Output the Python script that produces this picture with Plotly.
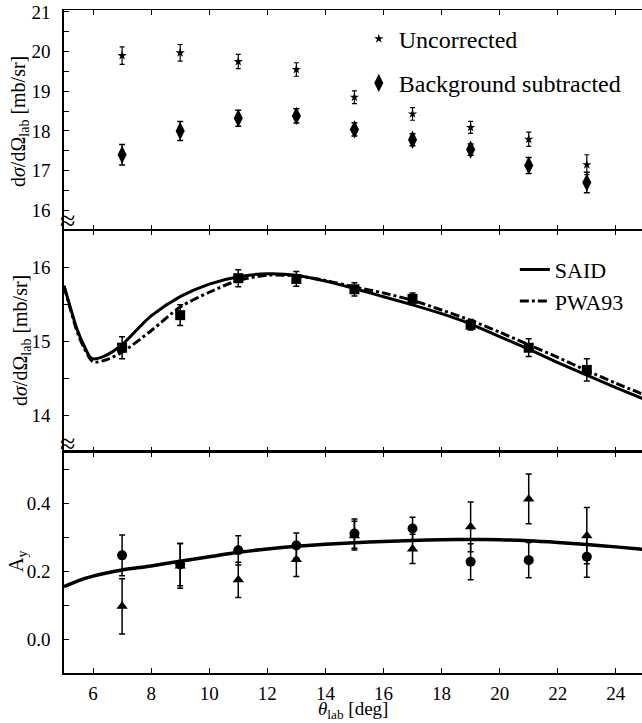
import plotly.graph_objects as go

# ---------------- data ----------------
theta = [7, 9, 11, 13, 15, 17, 19, 21, 23]

# top panel: cross sections
uncorr = [19.9, 19.97, 19.75, 19.55, 18.85, 18.43, 18.09, 17.79, 17.15]
uncorr_err = [0.22, 0.21, 0.18, 0.17, 0.16, 0.16, 0.15, 0.18, 0.25]
bgsub = [17.4, 18.0, 18.32, 18.38, 18.04, 17.78, 17.53, 17.13, 16.7]
bgsub_err = [0.26, 0.24, 0.2, 0.18, 0.17, 0.15, 0.14, 0.2, 0.26]

# middle panel: corrected cross sections
xs_corr = [14.91, 15.35, 15.85, 15.84, 15.7, 15.57, 15.22, 14.91, 14.61]
xs_corr_err = [0.15, 0.14, 0.115, 0.1, 0.09, 0.08, 0.07, 0.12, 0.15]

said_x = [5.0, 5.2, 5.45, 5.7, 5.95, 6.35, 7, 7.6, 8, 9, 10, 11, 12, 13, 14,
          15, 16, 17, 18, 19, 20, 21, 22, 23, 24, 25]
said_y = [15.75, 15.48, 15.16, 14.93, 14.765, 14.79, 14.95, 15.19, 15.34, 15.6,
          15.77, 15.87, 15.91, 15.89, 15.81, 15.71, 15.6, 15.49, 15.37, 15.23,
          15.06, 14.89, 14.71, 14.54, 14.37, 14.21]
pwa_x = [5.0, 5.2, 5.45, 5.7, 6.0, 6.4, 7, 8, 9, 10, 11, 12, 13, 14, 15, 16,
         17, 18, 19, 20, 21, 22, 23, 24, 25]
pwa_y = [15.74, 15.46, 15.13, 14.9, 14.72, 14.74, 14.85, 15.14, 15.46, 15.66,
         15.82, 15.89, 15.88, 15.82, 15.73, 15.65, 15.55, 15.42, 15.28, 15.12,
         14.95, 14.78, 14.6, 14.43, 14.27]

# bottom panel: analyzing power
ay_circ = [0.246, 0.219, 0.261, 0.275, 0.31, 0.325, 0.227, 0.232, 0.242]
ay_circ_err = [0.06, 0.062, 0.043, 0.037, 0.043, 0.033, 0.053, 0.052, 0.06]
ay_tri = [0.096, 0.215, 0.174, 0.234, 0.304, 0.265, 0.33, 0.412, 0.304]
ay_tri_err = [0.081, 0.066, 0.052, 0.05, 0.042, 0.043, 0.073, 0.073, 0.083]

ay_said_x = [5, 5.5, 6, 6.5, 7, 8, 9, 10, 11, 12, 13, 14, 15, 16, 17, 18, 19,
             20, 21, 22, 23, 24, 25]
ay_said_y = [0.154, 0.172, 0.185, 0.195, 0.203, 0.215, 0.229, 0.242, 0.255,
             0.265, 0.273, 0.279, 0.283, 0.287, 0.29, 0.292, 0.293, 0.292,
             0.289, 0.284, 0.278, 0.271, 0.263]

xticks = [6, 8, 10, 12, 14, 16, 18, 20, 22, 24]

# ---------------- figure ----------------
FONT = "Liberation Serif, Times New Roman, DejaVu Serif, serif"
BLACK = "black"

fig = go.Figure()

def err(vals, w=3, t=1.5):
    return dict(type="data", array=vals, visible=True, color=BLACK,
                thickness=t, width=w)

# top
fig.add_trace(go.Scatter(x=theta, y=uncorr, mode="markers", name="Uncorrected",
                         marker=dict(symbol="star", size=7, color=BLACK),
                         error_y=err(uncorr_err, 2.5, 1.2),
                         xaxis="x3", yaxis="y3", legend="legend",
                         legendgroup="a"))
fig.add_trace(go.Scatter(x=theta, y=bgsub, mode="markers",
                         name="Background subtracted",
                         marker=dict(symbol="diamond-tall", size=13, color=BLACK),
                         error_y=err(bgsub_err),
                         xaxis="x3", yaxis="y3", legend="legend",
                         legendgroup="b"))

# middle
fig.add_trace(go.Scatter(x=said_x, y=said_y, mode="lines", name="SAID",
                         line=dict(color=BLACK, width=3, shape="spline",
                                   smoothing=0.8),
                         xaxis="x2", yaxis="y2", legend="legend2"))
fig.add_trace(go.Scatter(x=pwa_x, y=pwa_y, mode="lines", name="PWA93",
                         line=dict(color=BLACK, width=3, dash="dashdot",
                                   shape="spline", smoothing=0.8),
                         xaxis="x2", yaxis="y2", legend="legend2"))
fig.add_trace(go.Scatter(x=theta, y=xs_corr, mode="markers", showlegend=False,
                         marker=dict(symbol="square", size=10, color=BLACK),
                         error_y=err(xs_corr_err),
                         xaxis="x2", yaxis="y2"))

# bottom
fig.add_trace(go.Scatter(x=ay_said_x, y=ay_said_y, mode="lines",
                         showlegend=False,
                         line=dict(color=BLACK, width=3.5, shape="spline",
                                   smoothing=0.8),
                         xaxis="x", yaxis="y"))
fig.add_trace(go.Scatter(x=theta, y=ay_circ, mode="markers", showlegend=False,
                         marker=dict(symbol="circle", size=10, color=BLACK),
                         error_y=err(ay_circ_err),
                         xaxis="x", yaxis="y"))
fig.add_trace(go.Scatter(x=theta, y=ay_tri, mode="markers", showlegend=False,
                         marker=dict(symbol="triangle-up", size=10, color=BLACK),
                         error_y=err(ay_tri_err),
                         xaxis="x", yaxis="y"))

XR = [5, 24.9]

def xaxis(domain_anchor, labels, lw):
    return dict(range=XR, anchor=domain_anchor, tickmode="array",
                tickvals=xticks, ticks="inside", ticklen=5, tickwidth=1.2,
                tickcolor=BLACK, showline=True, linecolor=BLACK, linewidth=lw,
                mirror="ticks", showgrid=False, zeroline=False,
                showticklabels=labels, ticklabelstandoff=2,
                tickfont=dict(family=FONT, size=19, color=BLACK))

def yaxis(domain, rng, dtick, minor, fmt=None):
    d = dict(domain=domain, range=rng, dtick=dtick, tick0=0, ticks="inside",
             ticklen=5, tickwidth=1.2, tickcolor=BLACK, showline=True,
             linecolor=BLACK, linewidth=1.5, showgrid=False, zeroline=False,
             minor=dict(dtick=minor, ticks="inside", ticklen=5,
                        tickcolor=BLACK, tickwidth=1.2, showgrid=False),
             tickfont=dict(family=FONT, size=19, color=BLACK),
             ticklabelstandoff=8)
    if fmt:
        d["tickformat"] = fmt
    return d

ytitle = "d<i>σ</i>/dΩ<sub>lab</sub> [mb/sr]"
PH = 663.0  # plot-area height in px (723 - 10 - 50)

def ypaper(px):
    return (673 - px) / PH

def xpaper(px):
    return (px - 64) / 578.0

def ylabel(text, xpx, ypx):
    return dict(text=text, x=xpaper(xpx), y=ypaper(ypx), xref="paper",
                yref="paper", showarrow=False, textangle=-90,
                xanchor="center", yanchor="middle",
                font=dict(family=FONT, size=20, color=BLACK))

fig.update_layout(
    width=642, height=723,
    margin=dict(l=64, r=0, t=10, b=50),
    paper_bgcolor="white", plot_bgcolor="white",
    font=dict(family=FONT, color=BLACK),
    xaxis=xaxis("y", True, 1.5),
    xaxis2=xaxis("y2", False, 1),
    xaxis3=xaxis("y3", False, 1),
    yaxis=yaxis([0, 0.3333], [-0.1, 0.55], 0.2, 0.1, ".1f"),
    yaxis2=yaxis([0.3333, 0.668], [13.5, 16.5], 1, 0.5),
    yaxis3=yaxis([0.668, 1.0], [15.5, 21.05], 1, 0.5),
    legend=dict(x=0.51, y=0.99, xanchor="left", yanchor="top",
                font=dict(family=FONT, size=24, color=BLACK),
                bgcolor="rgba(0,0,0,0)", tracegroupgap=10,
                traceorder="grouped"),
    legend2=dict(x=0.78, y=0.64, xanchor="left", yanchor="top",
                 font=dict(family=FONT, size=22, color=BLACK),
                 bgcolor="rgba(0,0,0,0)", tracegroupgap=0),
    annotations=[
        ylabel(ytitle, 20, 122),
        ylabel(ytitle, 21, 341),
        ylabel("A<sub>y</sub>", 17, 562),
        dict(text="<i>θ</i><sub>lab</sub> [deg]", x=xpaper(353),
             y=ypaper(697), xref="paper", yref="paper", showarrow=False,
             xanchor="center", yanchor="top", borderpad=0,
             font=dict(family=FONT, size=19, color=BLACK)),
        dict(text="≈", x=0, y=ypaper(220), xref="paper", yref="paper",
             showarrow=False, xanchor="center", yanchor="middle", xshift=3,
             font=dict(family=FONT, size=28, color=BLACK)),
        dict(text="≈", x=0, y=ypaper(443), xref="paper", yref="paper",
             showarrow=False, xanchor="center", yanchor="middle", xshift=3,
             font=dict(family=FONT, size=28, color=BLACK)),
    ],
)

fig.write_html("out.html")
